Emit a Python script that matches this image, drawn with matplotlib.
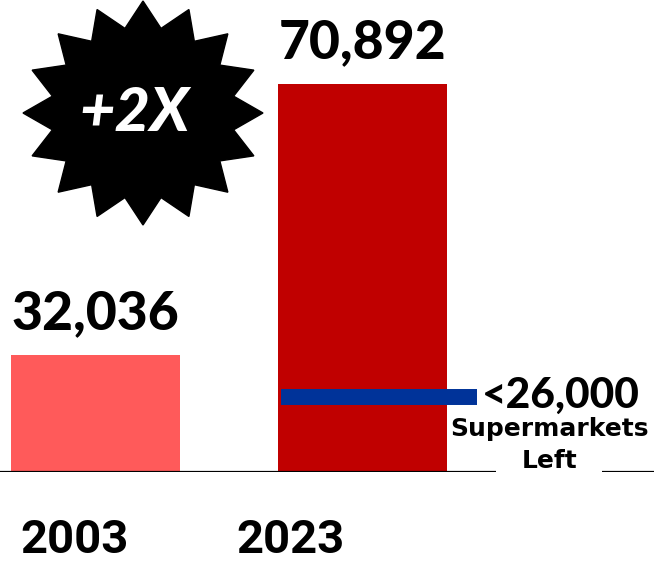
import matplotlib
matplotlib.use('Agg')
import matplotlib.pyplot as plt
import numpy as np
from matplotlib.patches import Polygon

years = ['2003', '2023']
stores = [32036, 70892]
bar_colors = ['#FF5A5A', '#C00000']
value_labels = ['32,036', '70,892']
supermarkets_left = 26000
growth_label = '+2X'

plt.rcParams['font.family'] = ['Lato', 'DejaVu Sans']

fig = plt.figure(figsize=(6.54, 5.63), dpi=100)
ax = fig.add_axes([0, 91 / 563, 1, 472 / 563])

x = np.arange(len(years))
ax.bar(x, stores, width=0.63, color=bar_colors, zorder=2)
ax.set_xlim(-0.358, 2.092)
ax.set_ylim(15300, 15300 + 472 / 388 * (70892 - 15300))

# baseline
ax.axhline(15300, color='black', lw=1.6, zorder=3)

# value labels
for xi, v, lab in zip(x, stores, value_labels):
    ax.annotate(lab, (xi, v), xytext=(0, 12), textcoords='offset points',
                ha='center', va='bottom', fontsize=38.5, fontweight='black')

# supermarkets line
ax.hlines(supermarkets_left, 1 - 0.305, 1 + 0.43, color='#003399', lw=11.5, zorder=4)
ax.annotate('<26,000', (1 + 0.43, supermarkets_left), xytext=(3, 1),
            textcoords='offset points', ha='left', va='center',
            fontsize=30.5, fontweight='black')
ax.text(1.70, 21500, 'Supermarkets', ha='center', va='center',
        fontsize=18, fontweight='bold', family='DejaVu Sans', zorder=6)
ax.text(1.70, 16900, 'Left', ha='center', va='center', fontsize=18,
        fontweight='bold', family='DejaVu Sans', zorder=5,
        bbox=dict(facecolor='white', edgecolor='none',
                  boxstyle='square,pad=1.0'))

ax.axis('off')

# starburst
n = 16
cx, cy = 143 / 654, 1 - 113 / 563
ang = np.pi / 2 - np.arange(2 * n) * np.pi / n
r = np.where(np.arange(2 * n) % 2 == 0, 1.0, 0.77)
px = cx + r * 120 * np.cos(ang) / 654
py = cy + r * 112 * np.sin(ang) / 563
fig.patches.append(Polygon(np.column_stack([px, py]), closed=True,
                           transform=fig.transFigure, color='black'))
fig.text(134 / 654, 1 - 113 / 563, growth_label, ha='center', va='center',
         color='white', fontsize=44, fontweight='black', style='italic')

# year labels
year_x = [75, 290]
for xx, y in zip(year_x, years):
    fig.text(xx / 654, 10 / 563, y, ha='center', va='baseline',
             fontsize=34, fontweight='bold', family=['Roboto', 'DejaVu Sans'])

fig.savefig('out.png', dpi=100)
